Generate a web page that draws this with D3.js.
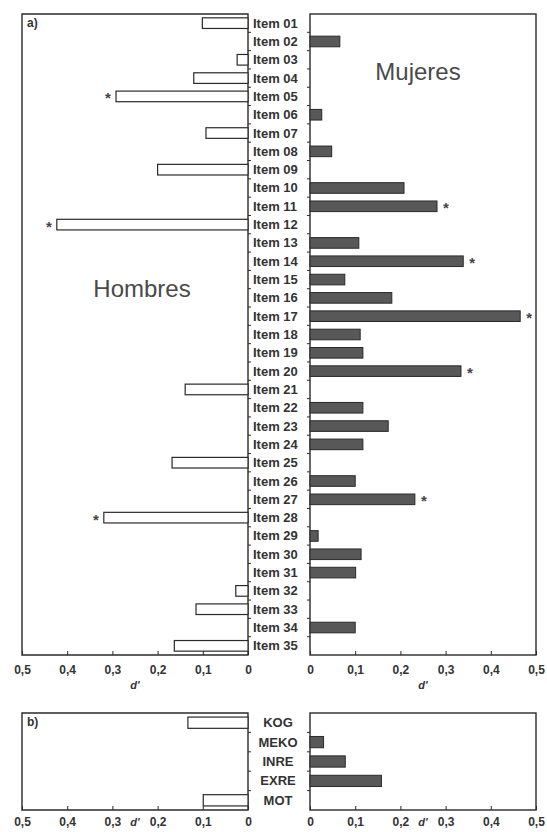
<!DOCTYPE html>
<html><head><meta charset="utf-8">
<script src="https://cdn.jsdelivr.net/npm/d3@7/dist/d3.min.js"></script>
<style>body{margin:0;background:#fff}svg{display:block}</style>
</head><body>
<svg id="c" width="547" height="832"></svg>
<script>
const itemsA = ["Item 01","Item 02","Item 03","Item 04","Item 05","Item 06","Item 07","Item 08","Item 09","Item 10",
"Item 11","Item 12","Item 13","Item 14","Item 15","Item 16","Item 17","Item 18","Item 19","Item 20",
"Item 21","Item 22","Item 23","Item 24","Item 25","Item 26","Item 27","Item 28","Item 29","Item 30",
"Item 31","Item 32","Item 33","Item 34","Item 35"];
const hombresA = [0.101,0,0.024,0.12,0.292,0,0.093,0,0.20,0,
0,0.423,0,0,0,0,0,0,0,0,
0.139,0,0,0,0.168,0,0,0.319,0,0,
0,0.027,0.115,0,0.163];
const mujeresA = [0,0.066,0,0,0,0.026,0,0.048,0,0.208,
0.281,0,0.108,0.339,0.077,0.181,0.465,0.111,0.117,0.334,
0,0.117,0.173,0.117,0,0.10,0.232,0,0.018,0.113,
0.101,0,0,0.10,0];
const starsH = ["Item 05","Item 12","Item 28"];
const starsM = ["Item 11","Item 14","Item 17","Item 20","Item 27"];
const itemsB = ["KOG","MEKO","INRE","EXRE","MOT"];
const hombresB = [0.133,0,0,0,0.099];
const mujeresB = [0,0.03,0.078,0.158,0];
const tickVals = [0,0.1,0.2,0.3,0.4,0.5];

const svg = d3.select("#c");
const fmt = d => d === 0 ? "0" : d3.format(".1f")(d).replace(".", ",");
const ink = "#2a2a2a";
const FF = "Liberation Sans, Arial";

function panel(items, hv, mv, sH, sM, top, bottom, tag, showNames, dY, pad) {
  const xL = d3.scaleLinear().domain([0.5, 0]).range([22, 248]);
  const xR = d3.scaleLinear().domain([0, 0.5]).range([310, 536]);
  const y = d3.scaleBand().domain(items).range([top, bottom]).paddingInner(0.42).paddingOuter(0.21);
  const g = svg.append("g");
  g.append("path").attr("d", `M${xL(0)},${top}H${xL(0.5)}V${bottom}H${xL(0)}Z`)
    .attr("fill", "none").attr("stroke", ink).attr("stroke-width", 1.4);
  g.append("rect").attr("x", xR(0)).attr("y", top).attr("width", xR(0.5) - xR(0)).attr("height", bottom - top)
    .attr("fill", "none").attr("stroke", ink).attr("stroke-width", 1.4);
  const gap = (y.step() - y.bandwidth()) / 2;
  items.slice(1).forEach(d => {
    const yy = y(d) - gap;
    g.append("line").attr("x1", xL(0)).attr("x2", xL(0) + 3).attr("y1", yy).attr("y2", yy).attr("stroke", ink);
    g.append("line").attr("x1", xR(0)).attr("x2", xR(0) - 3).attr("y1", yy).attr("y2", yy).attr("stroke", ink);
  });
  g.selectAll(".bl").data(items.map((d, i) => ({ d, v: hv[i] })).filter(o => o.v > 0)).join("rect")
    .attr("x", o => xL(o.v)).attr("y", o => y(o.d)).attr("width", o => xL(0) - xL(o.v)).attr("height", y.bandwidth())
    .attr("fill", "#fff").attr("stroke", ink).attr("stroke-width", 1.2);
  g.selectAll(".br").data(items.map((d, i) => ({ d, v: mv[i] })).filter(o => o.v > 0)).join("rect")
    .attr("x", xR(0)).attr("y", o => y(o.d)).attr("width", o => xR(o.v) - xR(0)).attr("height", y.bandwidth())
    .attr("fill", "#585858").attr("stroke", ink).attr("stroke-width", 1);
  items.forEach((d, i) => {
    if (sH.includes(d)) g.append("text").attr("x", xL(hv[i]) - 8).attr("y", y(d) + y.bandwidth() / 2 + 7)
      .attr("text-anchor", "middle").attr("font-family", FF).attr("font-size", 15).attr("font-weight", "bold").attr("fill", "#444").text("*");
    if (sM.includes(d)) g.append("text").attr("x", xR(mv[i]) + 9).attr("y", y(d) + y.bandwidth() / 2 + 7)
      .attr("text-anchor", "middle").attr("font-family", FF).attr("font-size", 15).attr("font-weight", "bold").attr("fill", "#444").text("*");
  });
  g.selectAll(".nm").data(items).join("text")
    .attr("x", showNames ? 253 : 278).attr("y", d => y(d) + y.bandwidth() / 2 + 4.5)
    .attr("text-anchor", showNames ? "start" : "middle")
    .attr("font-family", FF).attr("font-size", 13).attr("font-weight", "bold").attr("fill", "#333")
    .text(d => d);
  [xL, xR].forEach(x => {
    const ax = g.append("g").attr("transform", `translate(0,${bottom})`)
      .call(d3.axisBottom(x).tickValues(tickVals).tickFormat(fmt).tickSize(-4).tickSizeOuter(0).tickPadding(pad));
    ax.select(".domain").remove();
    ax.selectAll("line").attr("stroke", ink);
    ax.selectAll("text").attr("font-family", FF).attr("font-size", 12).attr("font-weight", "bold").attr("fill", "#333");
    g.append("text").attr("x", (x.range()[0] + x.range()[1]) / 2).attr("y", bottom + dY)
      .attr("text-anchor", "middle").attr("font-family", FF).attr("font-size", 11)
      .attr("font-weight", "bold").attr("font-style", "italic").attr("fill", "#333").text("d'");
  });
  g.append("text").attr("x", 27).attr("y", top + 13).attr("font-family", FF)
    .attr("font-size", 12).attr("font-weight", "bold").attr("fill", "#333").text(tag);
}

panel(itemsA, hombresA, mujeresA, starsH, starsM, 14, 655, "a)", true, 34, 10);
panel(itemsB, hombresB, mujeresB, [], [], 713, 810, "b)", false, 16, 7);

svg.append("text").attr("x", 418).attr("y", 80).attr("text-anchor", "middle")
  .attr("font-family", FF).attr("font-size", 24).attr("fill", "#4a4a4a").text("Mujeres");
svg.append("text").attr("x", 142).attr("y", 297).attr("text-anchor", "middle")
  .attr("font-family", FF).attr("font-size", 24).attr("fill", "#4a4a4a").text("Hombres");
</script>
</body></html>
